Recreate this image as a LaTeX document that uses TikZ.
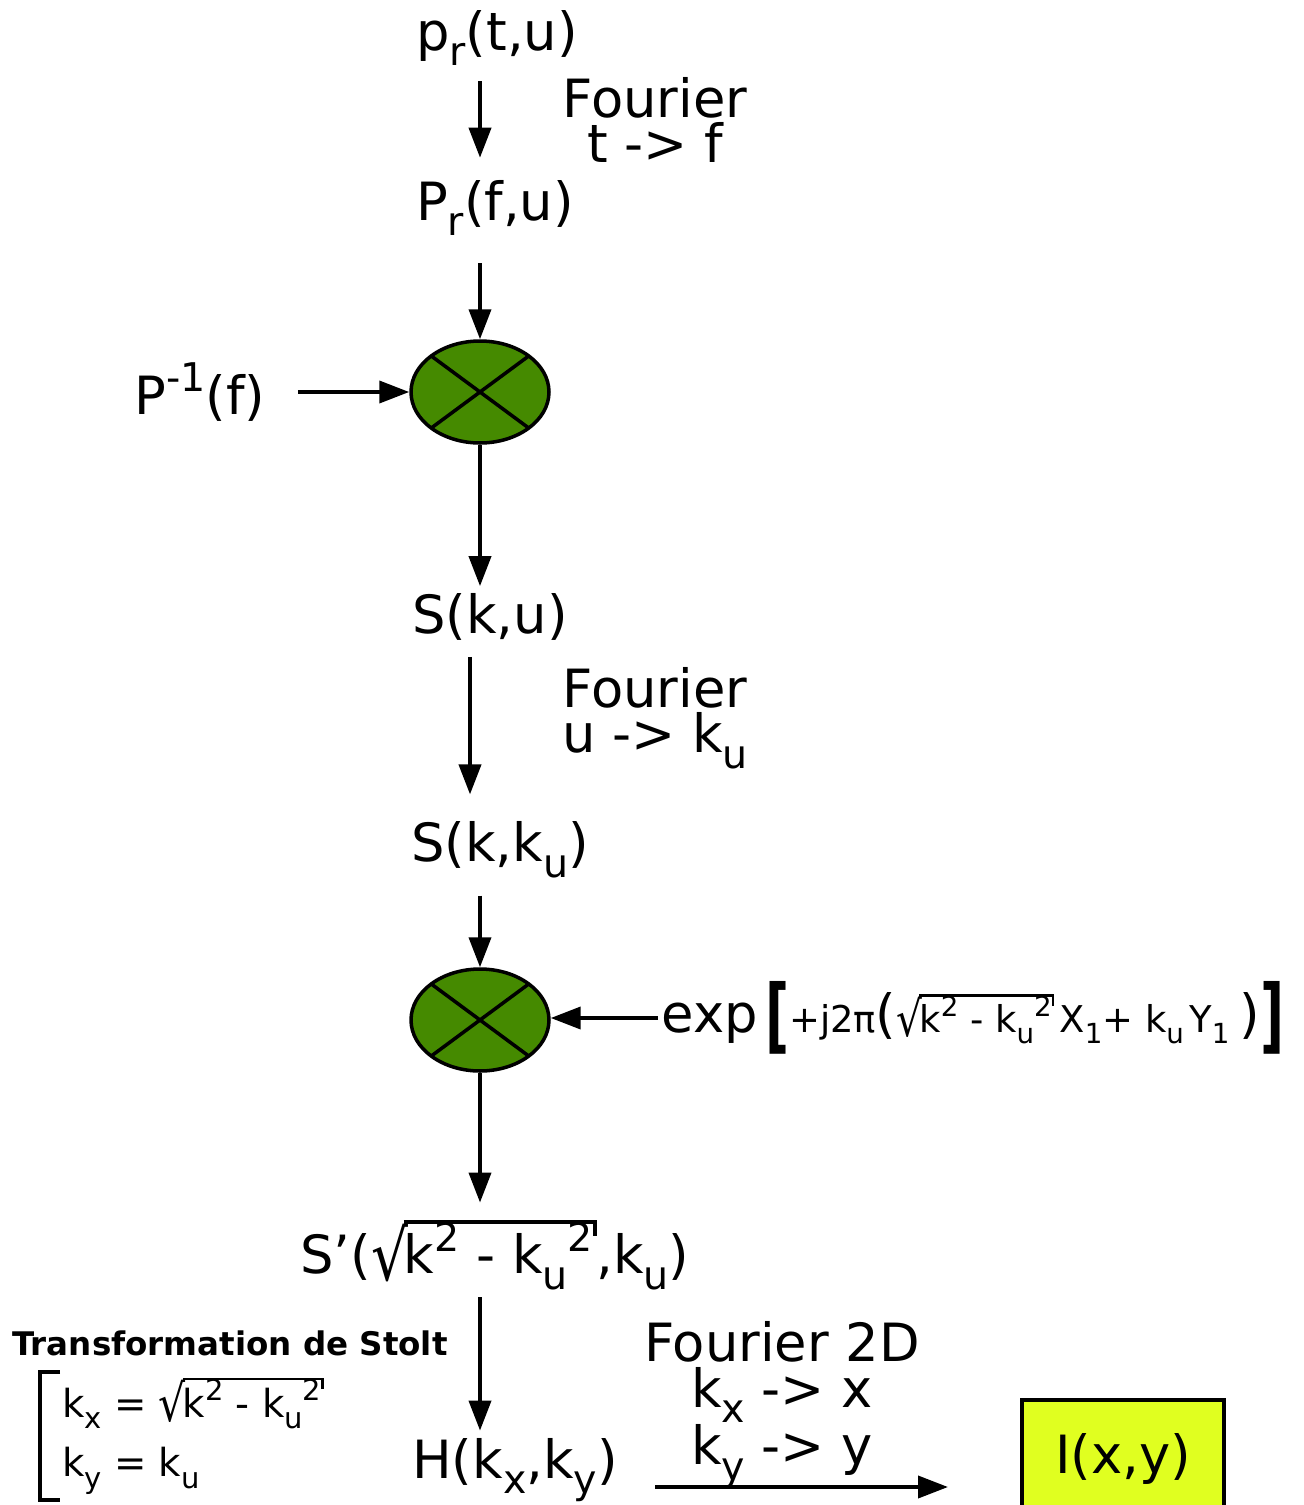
\documentclass[tikz,border=0pt]{standalone}
\usepackage{fontspec}
\setmainfont{DejaVu Sans}
\usepackage{graphicx}
\usetikzlibrary{arrows.meta,shapes.geometric,calc}
\definecolor{multgreen}{HTML}{458A00}
\definecolor{resyellow}{HTML}{E0FF20}
\newcommand{\lo}[1]{\raisebox{-0.3em}{\scalebox{0.75}{#1}}}
\newcommand{\hi}[1]{\raisebox{0.42em}{\scalebox{0.75}{#1}}}
\newsavebox{\radbox}
\newcommand{\rad}[1]{\sbox{\radbox}{#1}%
  \raisebox{-0.12em}{\scalebox{1.1}[1.32]{√}}\kern-0.08em%
  \rlap{\rule[0.95em]{\wd\radbox}{0.07em}}\usebox{\radbox}%
  \rule[0.72em]{0.07em}{0.3em}}
\newcommand{\bigbr}[1]{\raisebox{-0.22em}{\scalebox{1}[1.55]{\bfseries #1}}}

\begin{document}
\begin{tikzpicture}[
  x=0.02cm, y=-0.02cm,
  lbl/.style={inner sep=4pt, font=\fontsize{30}{26}\selectfont, align=center},
  small/.style={inner sep=2pt, font=\fontsize{22}{34}\selectfont},
  mult/.style={ellipse, draw, line width=2pt, fill=multgreen,
               minimum width=2.76cm, minimum height=2.04cm, inner sep=0pt,
               path picture={
                 \draw[line width=2pt] (path picture bounding box.north west)
                   -- (path picture bounding box.south east);
                 \draw[line width=2pt] (path picture bounding box.south west)
                   -- (path picture bounding box.north east);}},
  res/.style={draw, line width=2.2pt, fill=resyellow, font=\fontsize{30}{30}\selectfont,
              minimum width=4.04cm, minimum height=2.36cm, anchor=north west},
  ar/.style={-{Triangle[length=0.6cm, width=0.44cm]}, line width=2.2pt},
  brk/.style={line width=2.2pt}
]
\useasboundingbox (0,0) rectangle (1304,1505);

% ---- signals -----------------------------------------------------------
\node[lbl] (prt) at (497,38) {p\lo{r}(t,u)};
\node[lbl] (prf) at (495,208) {P\lo{r}(f,u)};
\node[mult] (m1) at (480,392) {};
\node[lbl] (pinv) at (200,392) {P\hi{-1}(f)};
\node[lbl] (sku) at (490,617) {S(k,u)};
\node[lbl] (skk) at (500,850) {S(k,k\lo{u})};
\node[mult] (m2) at (480,1020) {};
\node[lbl, anchor=west, inner sep=2pt] (expf) at (658,1018)
  {exp\hspace{4pt}\bigbr{[}{\fontsize{21}{21}\selectfont +j2π}(%
   {\fontsize{21}{21}\selectfont\rad{k\hi{2} - k\lo{u}\hi{2}}\hspace{3pt}X\lo{1}+ k\lo{u}\hspace{3pt}Y\lo{1}}\hspace{6pt})\bigbr{]}};
\node[lbl] (sp) at (495,1255) {S’(\rad{k\hi{2} - k\lo{u}\hi{2}},k\lo{u})};
\node[lbl] (hk) at (515,1470) {H(k\lo{x},k\lo{y})};
\node[res] (img) at (1020,1398) {I(x,y)};

% ---- annotations -------------------------------------------------------
\node[lbl] (four1) at (655,120) {Fourier\\t -> f};
\node[lbl] (four2) at (655,718) {Fourier\\u -> k\lo{u}};
\node[lbl] (four3) at (782,1405) {Fourier 2D\\k\lo{x} -> x\\k\lo{y} -> y};
\node[small, font=\fontsize{18.5}{20}\selectfont\bfseries] (stitle) at (230,1343)
  {Transformation de Stolt};
\node[small, anchor=west, align=left, inner sep=0pt, minimum height=2.56cm] (stolt) at (62,1436)
  {k\lo{x} = \rad{k\hi{2} - k\lo{u}\hi{2}}\\k\lo{y} = k\lo{u}};
\draw[brk] ($(stolt.north west)+(-2,0)$) -| ($(stolt.south west)+(-22,0)$) -- ++(20,0);

% ---- flow --------------------------------------------------------------
\draw[ar, shorten <=0.16cm, shorten >=0.3cm] (prt.south -| m1) -- (prf.north -| m1);
\draw[ar, shorten <=0.4cm] (prf.south -| m1) -- (m1.north);
\draw[ar, shorten <=0.5cm] (pinv.east) -- (pinv.east -| m1.west);
\draw[ar] (m1.south) -- (sku.north -| m1);
\draw[ar, shorten <=0.18cm, shorten >=0.4cm] ($(sku.south -| m1)+(-10,0)$) -- ($(skk.north -| m1)+(-10,0)$);
\draw[ar, shorten <=0.2cm] (skk.south -| m1) -- (m2.north);
\draw[ar] (expf.west) -- (expf.west -| m2.east);
\draw[ar, shorten >=0.2cm] (m2.south) -- (sp.north -| m2);
\draw[ar] (sp.south -| m2) -- (hk.north -| m2);
\draw[ar, shorten <=0.6cm, shorten >=1.44cm] ([yshift=-0.34cm]hk.east) -- ([yshift=-0.34cm]hk.east -| img.west);
\end{tikzpicture}
\end{document}
